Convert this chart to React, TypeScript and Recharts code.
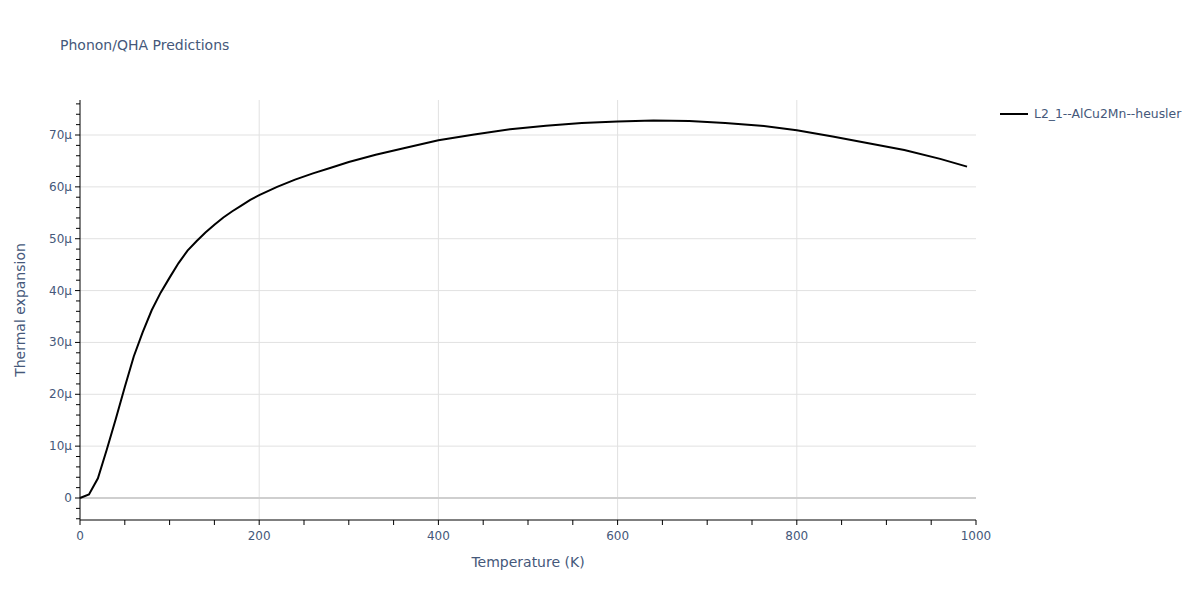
import { LineChart, Line, XAxis, YAxis, CartesianGrid, ReferenceLine } from "recharts"

const TEMPS = [0, 10, 20, 30, 40, 50, 60, 70, 80, 90, 100, 110, 120, 130, 140, 150, 160, 170, 180, 190, 200, 220, 240, 260, 280, 300, 330, 360, 400, 440, 480, 520, 560, 600, 640, 680, 720, 760, 800, 840, 880, 920, 960, 990]
// thermal expansion, in units of 1e-6 (µ)
const ALPHA = [0, 0.7, 3.8, 9.4, 15.3, 21.4, 27.3, 32.0, 36.2, 39.6, 42.5, 45.3, 47.7, 49.5, 51.2, 52.7, 54.1, 55.3, 56.4, 57.5, 58.4, 60.0, 61.4, 62.6, 63.7, 64.8, 66.2, 67.4, 69.0, 70.1, 71.1, 71.8, 72.3, 72.6, 72.8, 72.7, 72.3, 71.8, 70.9, 69.7, 68.4, 67.1, 65.4, 63.9]
const SERIES_NAME = "L2_1--AlCu2Mn--heusler"

const X_TICKS = Array.from({ length: 21 }, (_, i) => i * 50)
const X_LABELED = [0, 200, 400, 600, 800, 1000]
const Y_TICKS = Array.from({ length: 41 }, (_, i) => -4 + i * 2)
const Y_LABELED = [0, 10, 20, 30, 40, 50, 60, 70]

const data = TEMPS.map((t, i) => ({ t, alpha: ALPHA[i] }))

const FONT = '"DejaVu Sans", Verdana, sans-serif'
const TEXT = "#45587a"
const PLOT_LEFT = 80
const PLOT_BOTTOM = 520

const fmtY = (v: number) => (v === 0 ? "0" : `${v}µ`)

function YTick(props: any) {
  const { y, payload } = props
  const v = payload.value
  const major = Y_LABELED.includes(v)
  return (
    <g>
      <line x1={PLOT_LEFT - (major ? 5 : 4)} x2={PLOT_LEFT} y1={y} y2={y} stroke="#000" />
      {major && (
        <text x={PLOT_LEFT - 8} y={y} dy={4} textAnchor="end" fontSize={12} fill={TEXT} fontFamily={FONT}>
          {fmtY(v)}
        </text>
      )}
    </g>
  )
}

function XTick(props: any) {
  const { x, payload } = props
  const v = payload.value
  const major = X_LABELED.includes(v)
  return (
    <g>
      <line x1={x} x2={x} y1={PLOT_BOTTOM} y2={PLOT_BOTTOM + 5} stroke="#000" />
      {major && (
        <text x={x} y={PLOT_BOTTOM + 20} textAnchor="middle" fontSize={12} fill={TEXT} fontFamily={FONT}>
          {v}
        </text>
      )}
    </g>
  )
}

export default function App() {
  return (
    <div style={{ position: "absolute", left: 0, top: 0, width: 1200, height: 600, background: "#fff" }}>
      <LineChart width={1200} height={600} data={data} margin={{ top: 100, right: 224, bottom: 50, left: 0 }}>
        <CartesianGrid
          stroke="#e1e1e1"
          horizontalValues={[10, 20, 30, 40, 50, 60, 70]}
          verticalValues={[200, 400, 600, 800]}
        />
        <ReferenceLine y={0} stroke="#cfcfcf" strokeWidth={2} />
        <XAxis
          dataKey="t"
          type="number"
          domain={[0, 1000]}
          ticks={X_TICKS}
          interval={0}
          height={30}
          axisLine={{ stroke: "#000" }}
          tickLine={false}
          tick={<XTick />}
        />
        <YAxis
          type="number"
          domain={[-4.24, 76.75]}
          ticks={Y_TICKS}
          interval={0}
          width={80}
          axisLine={{ stroke: "#000" }}
          tickLine={false}
          tick={<YTick />}
          allowDataOverflow
        />
        <Line
          dataKey="alpha"
          name={SERIES_NAME}
          stroke="#000"
          strokeWidth={2}
          dot={false}
          type="linear"
          isAnimationActive={false}
        />
      </LineChart>
      <div style={{ position: "absolute", left: 1000, top: 106, display: "flex", alignItems: "center", fontFamily: FONT, fontSize: 12.4, color: TEXT }}>
        <svg width={28} height={10}>
          <line x1={0} x2={28} y1={5} y2={5} stroke="#000" strokeWidth={2} />
        </svg>
        <span style={{ marginLeft: 6 }}>{SERIES_NAME}</span>
      </div>
      <div style={{ position: "absolute", left: 60, top: 37, fontFamily: FONT, fontSize: 14, color: TEXT }}>
        Phonon/QHA Predictions
      </div>
      <div style={{ position: "absolute", left: 0, width: 1056, top: 554, textAlign: "center", fontFamily: FONT, fontSize: 14, color: TEXT }}>
        Temperature (K)
      </div>
      <div
        style={{
          position: "absolute",
          left: 20,
          top: 310,
          transform: "translate(-50%, -50%) rotate(-90deg)",
          whiteSpace: "nowrap",
          fontFamily: FONT,
          fontSize: 14,
          color: TEXT,
        }}
      >
        Thermal expansion
      </div>
    </div>
  )
}
